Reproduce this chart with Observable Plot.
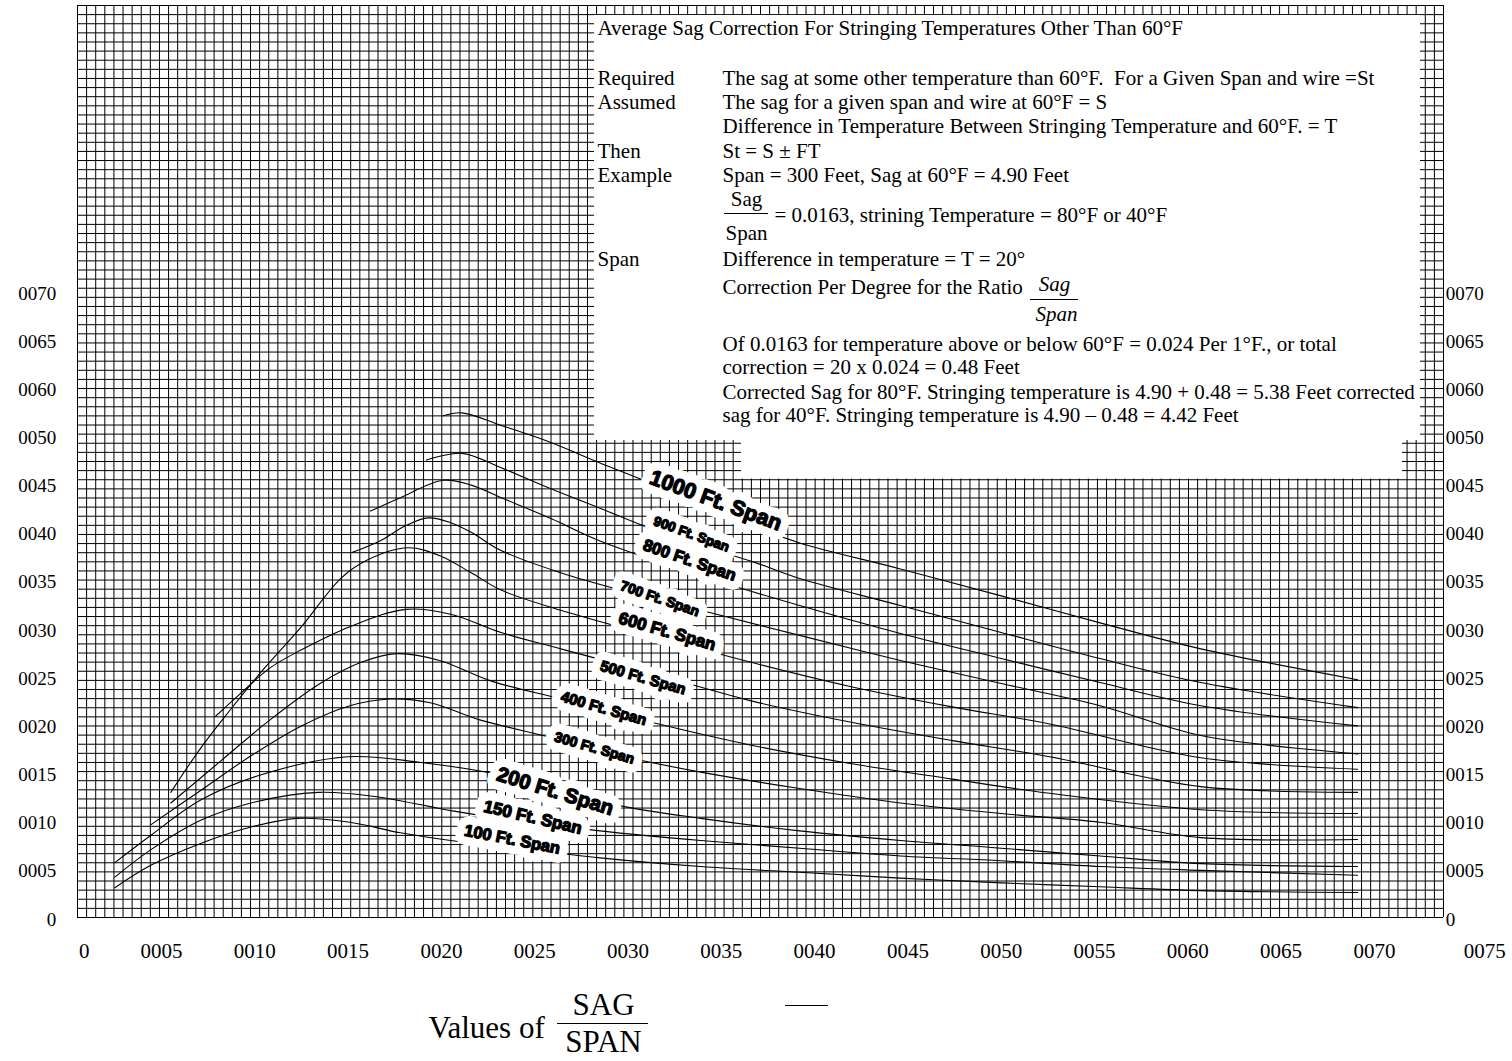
<!DOCTYPE html>
<html><head><meta charset="utf-8">
<script src="https://cdn.jsdelivr.net/npm/d3@7"></script>
<script src="https://cdn.jsdelivr.net/npm/@observablehq/plot@0.6"></script>
<style>
html,body{margin:0;padding:0;background:#fff;}
#chart{width:1512px;height:1061px;overflow:hidden;}
</style></head><body><div id="chart"></div>
<script>
// ---------- data ----------
const xTicks = [0,5,10,15,20,25,30,35,40,45,50,55,60,65,70,75];
const xTickLabels = ["0","0005","0010","0015","0020","0025","0030","0035","0040","0045","0050","0055","0060","0065","0070","0075"];
const yTicks = [0,5,10,15,20,25,30,35,40,45,50,55,60,65];
const yTickLabels = ["0","0005","0010","0015","0020","0025","0030","0035","0040","0045","0050","0060","0065","0070"];

const spanNames = ["100 Ft. Span","150 Ft. Span","200 Ft. Span","300 Ft. Span","400 Ft. Span","500 Ft. Span","600 Ft. Span","700 Ft. Span","800 Ft. Span","900 Ft. Span","1000 Ft. Span"];

const s100 = [[2.5,3.3],[4.4,5.6],[7.1,7.9],[9.8,9.6],[12.3,10.5],[15.1,10.1],[17.8,9.0],[20.5,8.2],[23.2,7.6],[28.5,6.4],[33.9,5.5],[39.2,4.9],[44.6,4.3],[50.0,3.8],[55.3,3.4],[60.7,3.0],[69.1,2.8]];
const s150 = [[2.5,4.4],[4.4,7.2],[7.1,10.3],[9.8,12.1],[13.4,13.2],[16.7,12.7],[20.5,11.3],[23.2,10.5],[28.5,9.2],[33.9,8.2],[39.2,7.4],[44.6,6.6],[50.0,6.1],[55.3,5.5],[60.7,5.1],[69.1,4.6]];
const s200 = [[2.5,5.9],[4.4,8.7],[7.1,12.4],[10.3,15.0],[15.0,16.9],[18.9,16.3],[23.2,15.0],[26.4,13.4],[29.6,11.8],[33.9,10.5],[39.2,9.2],[44.6,8.2],[50.0,7.4],[55.3,6.6],[60.7,5.8],[69.1,5.5]];
const s300 = [[4.4,9.8],[7.1,13.4],[9.8,17.0],[12.5,20.1],[15.1,22.2],[17.3,22.9],[19.4,22.5],[22.1,20.7],[25.9,18.9],[29.6,17.0],[33.9,15.3],[39.2,13.6],[44.6,12.1],[50.0,11.0],[55.3,10.1],[60.7,8.5],[69.1,8.3]];
const s400 = [[5.5,12.1],[8.2,16.5],[10.8,20.7],[13.5,24.5],[15.7,26.7],[17.6,27.6],[19.9,26.9],[22.6,24.8],[26.4,22.9],[31.2,20.5],[36.6,18.1],[41.9,16.2],[47.3,14.6],[52.6,13.1],[60.7,11.4],[69.1,11.0]];
const s500 = [[7.9,21.1],[9.2,23.4],[10.8,26.1],[12.5,28.0],[15.1,30.4],[18.1,32.2],[20.5,31.7],[23.2,29.8],[26.4,28.1],[31.2,25.6],[36.6,22.7],[41.9,20.5],[47.3,18.6],[52.6,16.9],[60.7,13.8],[69.1,13.2]];
const s600 = [[5.5,13.2],[7.1,17.8],[8.7,21.8],[10.3,25.6],[12.5,30.4],[14.6,35.4],[16.0,37.3],[18.2,38.6],[20.0,37.7],[21.6,36.0],[23.2,34.2],[26.4,32.1],[31.2,29.5],[36.6,26.7],[41.9,24.2],[47.3,22.1],[52.6,20.3],[60.7,16.8],[69.1,15.6]];
const s700 = [[15.2,38.1],[16.7,39.3],[18.1,40.9],[19.3,41.7],[20.5,41.2],[21.6,40.2],[23.2,38.3],[26.4,36.0],[29.6,34.2],[33.9,32.1],[39.2,29.5],[44.6,26.9],[50.0,24.5],[55.3,22.2],[60.7,19.1],[69.1,17.2]];
const s800 = [[16.2,42.4],[17.8,43.8],[20.1,45.6],[21.6,45.1],[23.2,43.8],[25.9,41.6],[28.5,39.3],[33.9,35.7],[39.2,32.6],[44.6,29.7],[50.0,27.1],[55.3,24.6],[60.7,22.2],[69.1,20.1]];
const s900 = [[19.2,47.7],[21.1,48.4],[23.2,46.9],[25.9,44.7],[28.5,42.7],[31.2,40.6],[33.9,38.8],[36.9,37.0],[39.2,35.4],[44.6,32.6],[50.0,29.8],[55.3,27.1],[60.7,24.6],[69.1,22.0]];
const s1000 = [[20.1,52.3],[21.1,52.6],[23.2,51.3],[25.9,49.5],[28.5,47.4],[31.2,45.3],[33.9,43.0],[36.6,40.9],[39.2,39.1],[44.6,36.4],[50.0,33.6],[55.3,30.8],[60.7,28.1],[69.1,24.9]];

// label anchors (chart values) for each span name
const labelX = [23.8,24.9,26.1,28.2,28.7,30.8,32.1,31.7,33.3,33.4,34.7];
const labelY = [8.3,10.6,13.3,17.8,21.9,25.1,29.9,33.3,37.3,40.0,43.5];

// ---------- layout / styles ----------
const W = 1512, H = 1061;
const ML = 67.7, MT = 4, MR = W - (67.7 + 18.66*75), MB = H - 919;
const XPX = 18.66, YPX = (919 - 4) / 95;
const fx = px => (px - ML) / XPX;          // page pixel -> x value (annotation helper)
const fy = py => (919 - py) / YPX;         // page pixel -> y value (annotation helper)

const labelSize = [16.5,17,20.5,14,15,15,17,14,16.5,13.5,21.5];
const labelRot  = [11,13,17,16,16,16,16,19,19,20,20];

const series = [s100,s150,s200,s300,s400,s500,s600,s700,s800,s900,s1000];
const curveRows = series.flatMap((s,i) => s.map(([x,y]) => ({span: spanNames[i], x, y})));
const labels = spanNames.map((t,i) => ({t, x: labelX[i], y: labelY[i], size: labelSize[i], rot: labelRot[i]}));

const gridXs = d3.range(151).map(i => fx(77 + i * 1366/150));
const gridYs = d3.range(101).map(i => fy(917 - i * 912/100));

const serif = "'Liberation Serif','Times New Roman',serif";
const sans = "'Liberation Sans',Arial,sans-serif";
const note = (text, px, py, o = {}) => Plot.text([text], {
  frameAnchor: "top-left", dx: px - ML, dy: py - MT, text: d => d, lineAnchor: "middle",
  textAnchor: "start", fontSize: 21, fontFamily: serif, fill: "#000", ...o
});
const hline = (x1, x2, py, w = 1) => Plot.ruleY([fy(py)], {x1: fx(x1), x2: fx(x2), stroke: "#000", strokeWidth: w});

const xFmt = new Map(xTicks.map((v,i) => [v, xTickLabels[i]]));
const yFmt = new Map(yTicks.map((v,i) => [v, yTickLabels[i]]));
const xFirst = xTicks[0], xLast = xTicks[xTicks.length - 1];

const labelOpts = {x: "x", y: "y", text: "t", rotate: "rot", fontSize: "size", fontWeight: 900, fontFamily: sans};
const xLabOpts = {frameAnchor: "bottom", lineAnchor: "middle", dy: 32, text: d => xFmt.get(d), fontSize: 21, fontFamily: serif};

const chart = Plot.plot({
  width: W, height: H,
  marginLeft: ML, marginRight: MR, marginTop: MT, marginBottom: MB,
  x: {domain: [0, 75], axis: null},
  y: {domain: [0, 95], axis: null},
  style: {fontFamily: serif, background: "#fff", color: "#000"},
  marks: [
    // graph-paper grid
    Plot.ruleX(gridXs, {y1: fy(917), y2: fy(5), stroke: "#000", strokeWidth: 1}),
    Plot.ruleY(gridYs, {x1: fx(77), x2: fx(1443), stroke: "#000", strokeWidth: 1}),
    // white note panel
    Plot.rect([0], {x1: fx(594), x2: fx(1420), y1: fy(440), y2: fy(15), fill: "#fff"}),
    Plot.rect([0], {x1: fx(741), x2: fx(1402), y1: fy(478.6), y2: fy(440), fill: "#fff"}),
    // curves
    Plot.line(curveRows, {x: "x", y: "y", z: "span", curve: "catmull-rom", stroke: "#000", strokeWidth: 1.1}),
    // curve labels: white band then heavy black text
    Plot.text(labels, {...labelOpts, fill: "#fff", stroke: "#fff", strokeWidth: 18, strokeLinejoin: "round"}),
    Plot.text(labels, {...labelOpts, fill: "#000", stroke: "#000", strokeWidth: 1.3, strokeLinejoin: "round"}),
    // axes labels
    Plot.text(xTicks.filter(d => d !== xFirst && d !== xLast), {x: d => d, ...xLabOpts}),
    Plot.text([xFirst], {x: d => d, ...xLabOpts, dx: 16}),
    Plot.text([xLast], {x: d => d, ...xLabOpts, dx: 17}),
    Plot.text(yTicks, {y: d => d, frameAnchor: "left", dx: -12, textAnchor: "end", text: d => yFmt.get(d), fontSize: 19, fontFamily: serif}),
    Plot.text(yTicks, {y: d => d, frameAnchor: "right", dx: -22, textAnchor: "start", text: d => yFmt.get(d), fontSize: 19, fontFamily: serif}),
    // note text
    note("Average Sag Correction For Stringing Temperatures Other Than 60°F", 597, 28),
    note("Required", 597, 78),
    note("Assumed", 597, 102),
    note("Then", 597, 151),
    note("Example", 597, 175),
    note("Span", 597, 259),
    note("The sag at some other temperature than 60°F.\u00a0 For a Given Span and wire =St", 722, 78),
    note("The sag for a given span and wire at 60°F = S", 722, 102),
    note("Difference in Temperature Between Stringing Temperature and 60°F. = T", 722, 126),
    note("St = S ± FT", 722, 151),
    note("Span = 300 Feet, Sag at 60°F = 4.90 Feet", 722, 175),
    note("Sag", 746, 199, {textAnchor: "middle"}),
    hline(724, 768, 213),
    note("Span", 746, 233, {textAnchor: "middle"}),
    note("= 0.0163, strining Temperature = 80°F or 40°F", 774, 215),
    note("Difference in temperature = T = 20°", 722, 259),
    note("Correction Per Degree for the Ratio", 722, 287),
    note("Sag", 1054, 284, {textAnchor: "middle", fontStyle: "italic"}),
    hline(1030, 1078, 299),
    note("Span", 1056, 314, {textAnchor: "middle", fontStyle: "italic"}),
    note("Of 0.0163 for temperature above or below 60°F = 0.024 Per 1°F., or total", 722, 344),
    note("correction = 20 x 0.024 = 0.48 Feet", 722, 367),
    note("Corrected Sag for 80°F. Stringing temperature is 4.90 + 0.48 = 5.38 Feet corrected", 722, 392),
    note("sag for 40°F. Stringing temperature is 4.90 – 0.48 = 4.42 Feet", 722, 415),
    // bottom title
    note("Values of", 428, 1028, {fontSize: 31}),
    note("SAG", 603, 1005, {fontSize: 31, textAnchor: "middle"}),
    hline(557, 648, 1023),
    note("SPAN", 603, 1042, {fontSize: 31, textAnchor: "middle"}),
    hline(785, 828, 1005)
  ]
});
document.getElementById("chart").appendChild(chart);
</script></body></html>
